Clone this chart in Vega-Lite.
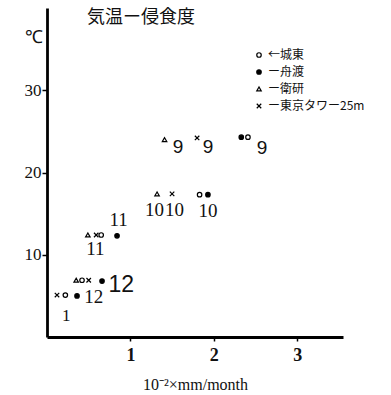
{
  "$schema": "https://vega.github.io/schema/vega-lite/v6.json",
  "width": 296,
  "height": 329,
  "autosize": "none",
  "padding": {"left": 47, "top": 8, "right": 48, "bottom": 58},
  "background": "white",
  "title": {"text": "気温ー侵食度", "anchor": "start", "frame": "group", "offset": 0, "baseline": "middle", "dx": 40, "dy": 28, "font": "Noto Sans CJK JP", "fontSize": 18, "fontWeight": "normal", "color": "#111"},
  "config": {"view": {"stroke": null}},
  "datasets": {
    "points": [
      {"station": "城東", "month": 9, "x": 2.41, "y": 24.3},
      {"station": "城東", "month": 10, "x": 1.83, "y": 17.3},
      {"station": "城東", "month": 11, "x": 0.65, "y": 12.4},
      {"station": "城東", "month": 12, "x": 0.42, "y": 6.9},
      {"station": "城東", "month": 1, "x": 0.22, "y": 5.1},
      {"station": "舟渡", "month": 9, "x": 2.33, "y": 24.3},
      {"station": "舟渡", "month": 10, "x": 1.93, "y": 17.3},
      {"station": "舟渡", "month": 11, "x": 0.84, "y": 12.3},
      {"station": "舟渡", "month": 12, "x": 0.66, "y": 6.8},
      {"station": "舟渡", "month": 12, "x": 0.36, "y": 5.0},
      {"station": "衛研", "month": 9, "x": 1.41, "y": 24.0},
      {"station": "衛研", "month": 10, "x": 1.32, "y": 17.4},
      {"station": "衛研", "month": 11, "x": 0.49, "y": 12.4},
      {"station": "衛研", "month": 12, "x": 0.35, "y": 6.9},
      {"station": "東京タワー25m", "month": 9, "x": 1.80, "y": 24.2},
      {"station": "東京タワー25m", "month": 10, "x": 1.50, "y": 17.4},
      {"station": "東京タワー25m", "month": 11, "x": 0.59, "y": 12.4},
      {"station": "東京タワー25m", "month": 12, "x": 0.50, "y": 6.9},
      {"station": "東京タワー25m", "month": 1, "x": 0.12, "y": 5.1}
    ],
    "labels9": [
      {"t": "9", "x": 1.57, "y": 23.1},
      {"t": "9", "x": 1.93, "y": 23.1},
      {"t": "9", "x": 2.58, "y": 23.0}
    ],
    "labels": [
      {"t": "10", "x": 1.29, "y": 15.4},
      {"t": "10", "x": 1.53, "y": 15.4},
      {"t": "10", "x": 1.93, "y": 15.3},
      {"t": "11", "x": 0.58, "y": 10.7},
      {"t": "11", "x": 0.86, "y": 14.2},
      {"t": "12", "x": 0.56, "y": 4.9}
    ],
    "labelBig": [
      {"t": "12", "x": 0.89, "y": 6.3}
    ],
    "labelSmall": [
      {"t": "1", "x": 0.23, "y": 2.6}
    ]
  },
  "layer": [
    {
      "data": {"name": "points"},
      "mark": {"type": "point", "filled": true, "strokeWidth": 1.2, "size": 20, "opacity": 1},
      "encoding": {
        "x": {"field": "x", "type": "quantitative", "scale": {"domain": [0, 3.55], "nice": false, "zero": false},
          "axis": {"values": [1, 2, 3], "format": "d", "title": "10⁻²×mm/month", "titleX": 148, "titleY": 47, "titleBaseline": "middle", "titleAlign": "center", "titleFont": "Liberation Serif", "titleFontSize": 16, "titleFontWeight": "normal", "titleColor": "#111", "domainColor": "black", "domainWidth": 2.8, "tickColor": "black", "tickSize": 4, "tickWidth": 1.5, "labelFont": "Liberation Serif", "labelFontSize": 18, "labelFontWeight": "bold", "labelColor": "#111", "labelPadding": 5, "grid": false}},
        "y": {"field": "y", "type": "quantitative", "scale": {"domain": [0, 40], "nice": false},
          "axis": {"values": [10, 20, 30], "title": "℃", "titleAngle": 0, "titleX": -14, "titleY": 29, "titleAlign": "center", "titleBaseline": "middle", "titleFont": "Liberation Serif", "titleFontSize": 18, "titleFontWeight": "normal", "titleColor": "#111", "domainColor": "black", "domainWidth": 2.8, "tickColor": "black", "tickSize": 5, "tickWidth": 1.5, "labelFont": "Liberation Serif", "labelFontSize": 17, "labelColor": "#111", "labelPadding": 1, "grid": false}},
        "shape": {"field": "station", "type": "nominal",
          "scale": {"domain": ["城東", "舟渡", "衛研", "東京タワー25m"], "range": ["circle", "circle", "triangle-up", "M-1,-1L1,1M-1,1L1,-1"]},
          "legend": {"orient": "none", "legendX": 206, "legendY": 41, "title": null, "padding": 0, "labelFont": "Noto Sans CJK JP", "labelFontSize": 12, "labelColor": "#111", "symbolStrokeWidth": 1.2, "symbolSize": 20, "rowPadding": 5, "labelOffset": 3, "labelExpr": "datum.label == '城東' ? '←城東' : 'ー' + datum.label"}},
        "fill": {"field": "station", "type": "nominal",
          "scale": {"domain": ["城東", "舟渡", "衛研", "東京タワー25m"], "range": ["white", "black", "white", "white"]},
          "legend": {"orient": "none", "legendX": 206, "legendY": 41, "title": null, "padding": 0, "labelFont": "Noto Sans CJK JP", "labelFontSize": 12, "labelColor": "#111", "symbolStrokeWidth": 1.2, "symbolSize": 20, "rowPadding": 5, "labelOffset": 3, "labelExpr": "datum.label == '城東' ? '←城東' : 'ー' + datum.label"}},
        "stroke": {"field": "station", "type": "nominal",
          "scale": {"domain": ["城東", "舟渡", "衛研", "東京タワー25m"], "range": ["black", "black", "black", "black"]},
          "legend": {"orient": "none", "legendX": 206, "legendY": 41, "title": null, "padding": 0, "labelFont": "Noto Sans CJK JP", "labelFontSize": 12, "labelColor": "#111", "symbolStrokeWidth": 1.2, "symbolSize": 20, "rowPadding": 5, "labelOffset": 3, "labelExpr": "datum.label == '城東' ? '←城東' : 'ー' + datum.label"}}
      }
    },
    {
      "data": {"name": "labels9"},
      "mark": {"type": "text", "font": "Liberation Sans", "fontSize": 19, "color": "#111", "baseline": "middle", "align": "center"},
      "encoding": {"x": {"field": "x", "type": "quantitative"}, "y": {"field": "y", "type": "quantitative"}, "text": {"field": "t"}}
    },
    {
      "data": {"name": "labels"},
      "mark": {"type": "text", "font": "Liberation Serif", "fontSize": 19, "color": "#111", "baseline": "middle", "align": "center"},
      "encoding": {"x": {"field": "x", "type": "quantitative"}, "y": {"field": "y", "type": "quantitative"}, "text": {"field": "t"}}
    },
    {
      "data": {"name": "labelBig"},
      "mark": {"type": "text", "font": "Liberation Sans", "fontSize": 23, "color": "#111", "baseline": "middle", "align": "center"},
      "encoding": {"x": {"field": "x", "type": "quantitative"}, "y": {"field": "y", "type": "quantitative"}, "text": {"field": "t"}}
    },
    {
      "data": {"name": "labelSmall"},
      "mark": {"type": "text", "font": "Liberation Serif", "fontSize": 17, "color": "#111", "baseline": "middle", "align": "center"},
      "encoding": {"x": {"field": "x", "type": "quantitative"}, "y": {"field": "y", "type": "quantitative"}, "text": {"field": "t"}}
    }
  ]
}
